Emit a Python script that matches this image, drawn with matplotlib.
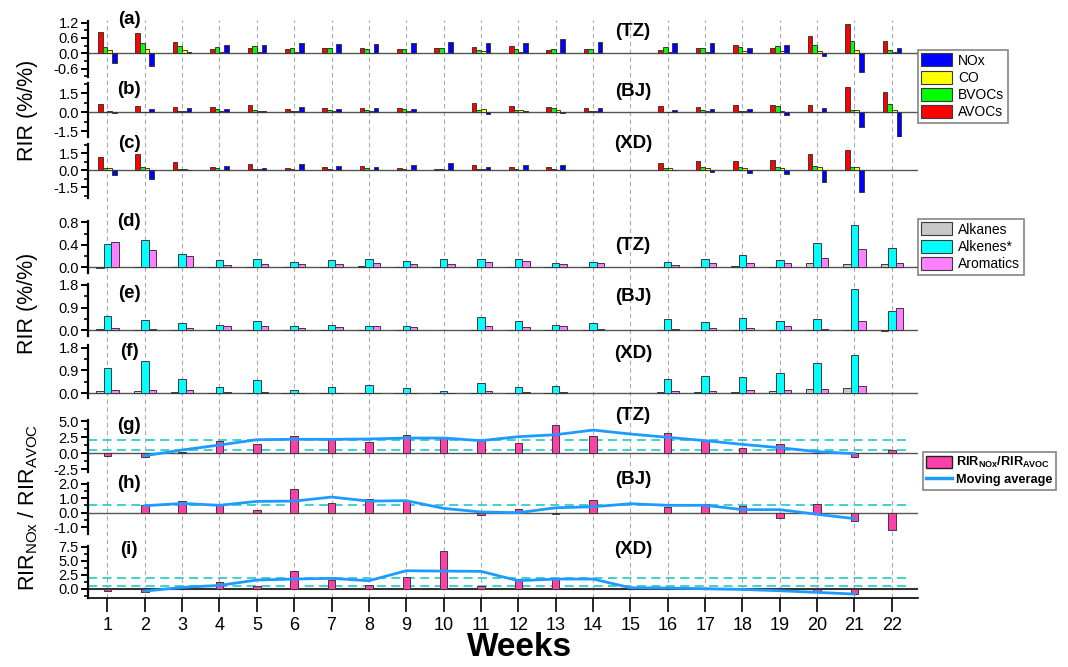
import numpy as np
import matplotlib
matplotlib.use("Agg")
import matplotlib.pyplot as plt
from matplotlib.patches import Patch
from matplotlib.lines import Line2D
from matplotlib.ticker import MultipleLocator, FormatStrFormatter

plt.rcParams['font.family'] = ['Liberation Sans', 'DejaVu Sans']
plt.rcParams['mathtext.fontset'] = 'custom'
plt.rcParams['mathtext.rm'] = 'Liberation Sans'
plt.rcParams['mathtext.bf'] = 'Liberation Sans:bold'
plt.rcParams['mathtext.it'] = 'Liberation Sans:italic'

nan = np.nan
weeks = list(range(1, 23))

# ---- (a)-(c) RIR of precursor groups ----
AVOCs_TZ = [0.85,0.81,0.43,0.18,0.21,0.17,0.20,0.22,0.16,0.20,0.23,0.27,0.12,0.17,nan,0.12,0.22,0.31,0.21,0.68,1.15,0.47]
BVOCs_TZ = [0.25,0.40,0.29,0.25,0.27,0.20,0.20,0.18,0.18,0.21,0.13,0.17,0.16,0.17,nan,0.25,0.22,0.26,0.29,0.31,0.47,0.12]
CO_TZ    = [0.12,0.17,0.12,0.05,0.05,0.04,0.03,0.02,0.03,0.02,0.08,0.04,0.02,0.01,nan,0.04,0.04,0.09,0.09,0.10,0.12,0.07]
NOx_TZ   = [-0.37,-0.50,0.05,0.34,0.31,0.42,0.38,0.38,0.42,0.46,0.42,0.40,0.55,0.46,nan,0.42,0.42,0.22,0.31,-0.10,-0.72,0.22]

AVOCs_BJ = [0.66,0.50,0.42,0.39,0.55,0.26,0.37,0.37,0.32,nan,0.74,0.50,0.42,0.37,nan,0.53,0.45,0.58,0.58,0.55,2.03,1.61]
BVOCs_BJ = [0.05,0.05,0.08,0.24,0.21,0.08,0.21,0.16,0.26,nan,0.21,0.21,0.34,0.08,nan,0.03,0.16,0.08,0.53,0.03,0.18,0.63]
CO_BJ    = [0.08,0.05,0.10,0.08,0.13,0.08,0.08,0.08,0.08,nan,0.29,0.18,0.16,0.08,nan,0.03,0.08,0.08,0.08,0.03,0.18,0.18]
NOx_BJ   = [-0.02,0.29,0.37,0.24,0.08,0.42,0.24,0.32,0.26,nan,-0.16,0.13,-0.05,0.32,nan,0.21,0.26,0.26,-0.24,0.32,-1.16,-1.92]

AVOCs_XD = [1.15,1.44,0.72,0.26,0.52,0.17,0.26,0.40,0.20,0.09,0.49,0.26,0.29,nan,nan,0.66,0.78,0.78,0.95,1.47,1.82,nan]
BVOCs_XD = [0.17,0.26,0.14,0.17,0.09,0.09,0.09,0.17,0.09,0.09,0.12,0.12,0.12,nan,nan,0.17,0.26,0.32,0.26,0.35,0.26,nan]
CO_XD    = [0.17,0.17,0.09,0.06,0.09,0.06,0.06,0.06,0.06,0.03,0.09,0.06,0.06,nan,nan,0.17,0.17,0.17,0.17,0.26,0.26,nan]
NOx_XD   = [-0.43,-0.75,0.01,0.35,0.23,0.52,0.40,0.26,0.43,0.61,0.26,0.43,0.46,nan,nan,0.0,-0.17,-0.23,-0.35,-1.07,-1.88,nan]

# ---- (d)-(f) RIR of VOC groups ----
Alkanes_TZ   = [-0.01,0.01,0.005,0.01,0.01,0.01,0.01,0.02,0.01,0.005,0.01,0.01,0.005,0.005,nan,0.005,0.01,0.02,0.01,0.07,0.05,0.06]
Alkenes_TZ   = [0.41,0.48,0.23,0.13,0.15,0.10,0.13,0.14,0.11,0.14,0.14,0.14,0.07,0.10,nan,0.09,0.14,0.21,0.12,0.44,0.76,0.35]
Aromatics_TZ = [0.45,0.30,0.19,0.04,0.05,0.05,0.05,0.07,0.05,0.05,0.09,0.11,0.05,0.08,nan,0.04,0.07,0.08,0.07,0.16,0.33,0.07]

Alkanes_BJ   = [0.03,0.02,0.01,-0.01,0.01,0.01,0.01,0.01,0.01,nan,0.01,0.01,0.01,0.01,nan,0.01,0.01,0.01,0.01,0.02,0.01,-0.04]
Alkenes_BJ   = [0.56,0.40,0.30,0.21,0.36,0.16,0.20,0.15,0.17,nan,0.54,0.36,0.22,0.28,nan,0.44,0.34,0.49,0.38,0.44,1.65,0.75]
Aromatics_BJ = [0.07,0.05,0.09,0.16,0.16,0.08,0.12,0.15,0.11,nan,0.15,0.11,0.15,0.05,nan,0.05,0.08,0.08,0.16,0.03,0.37,0.90]

Alkanes_XD   = [0.08,0.08,0.04,0.02,0.02,0.02,0.02,0.02,0.02,0.01,0.02,0.02,0.02,nan,nan,0.04,0.04,0.03,0.09,0.17,0.20,nan]
Alkenes_XD   = [1.01,1.28,0.58,0.26,0.51,0.13,0.23,0.34,0.21,0.08,0.42,0.23,0.27,nan,nan,0.56,0.66,0.63,0.79,1.18,1.49,nan]
Aromatics_XD = [0.11,0.12,0.12,0.03,0.03,0.02,0.02,0.02,0.02,0.01,0.08,0.03,0.03,nan,nan,0.09,0.09,0.12,0.12,0.17,0.28,nan]

# ---- (g)-(i) RIR_NOx / RIR_AVOC and moving average ----
Ratio_TZ = [-0.42,-0.57,0.10,1.88,1.46,2.66,2.14,1.67,2.76,2.40,1.98,1.51,4.43,2.60,nan,3.07,1.93,0.73,1.46,-0.05,-0.57,0.47]
MA_TZ    = [nan,-0.42,0.47,1.25,2.08,2.14,2.14,2.19,2.34,2.34,1.93,2.55,2.86,3.59,2.97,2.45,1.93,1.35,0.83,0.21,-0.10,nan]
Ratio_BJ = [nan,0.55,0.78,0.53,0.16,1.63,0.64,0.92,0.83,nan,-0.18,0.23,-0.11,0.85,nan,0.41,0.60,0.46,-0.39,0.60,-0.57,-1.22]
MA_BJ    = [nan,0.48,0.64,0.51,0.78,0.80,1.08,0.80,0.83,0.30,0.05,0.00,0.34,0.41,0.62,0.51,0.51,0.21,0.21,-0.11,-0.41,nan]
Ratio_XD = [-0.42,-0.60,nan,1.13,0.42,3.15,1.55,0.65,2.08,6.79,0.48,1.73,1.90,nan,nan,nan,nan,nan,-0.30,-0.60,-1.00,nan]
MA_XD    = [nan,-0.42,0.24,0.60,1.55,1.73,1.85,1.43,3.21,3.15,3.10,1.43,1.73,1.73,0.18,0.12,0.00,-0.12,-0.36,-0.65,-0.95,nan]
ref_levels_TZ = [0.5, 2.0]
ref_levels_BJ = [0.5]
ref_levels_XD = [0.5, 2.0]

# ---------------- figure -----------------
W_PX, H_PX = 1068, 667
fig = plt.figure(figsize=(W_PX/100, H_PX/100), dpi=100)
LEFT_PX, RIGHT_PX = 88, 918
XLIM = (0.48, 22.7)

def fx(px):
    return px / W_PX

def fy(py):
    return 1 - py / H_PX

def make_ax(top, bottom, ylim, major, minor):
    ax = fig.add_axes([fx(LEFT_PX), fy(bottom), fx(RIGHT_PX - LEFT_PX), (bottom - top) / H_PX])
    ax.set_facecolor('none')
    ax.set_xlim(*XLIM)
    ax.set_ylim(*ylim)
    for s in ['top', 'right', 'bottom']:
        ax.spines[s].set_visible(False)
    ax.spines['left'].set_linewidth(1.6)
    ax.yaxis.set_major_locator(MultipleLocator(major))
    ax.yaxis.set_minor_locator(MultipleLocator(minor))
    ax.yaxis.set_major_formatter(FormatStrFormatter('%.1f'))
    ax.tick_params(axis='y', which='major', direction='out', length=5, width=1.4, labelsize=10.5, pad=1.5)
    ax.tick_params(axis='y', which='minor', direction='out', length=3, width=1.2)
    ax.tick_params(axis='x', which='both', bottom=False, labelbottom=False)
    ax.axhline(0, color='#555555', lw=1.0, zorder=1)
    return ax

x = np.array(weeks, dtype=float)
edge = '#3a3a3a'

# background axes with vertical dashed week lines
bg = fig.add_axes([fx(LEFT_PX), fy(598), fx(RIGHT_PX - LEFT_PX), (598 - 20) / H_PX])
bg.set_xlim(*XLIM)
bg.set_ylim(0, 1)
bg.axis('off')
for w in weeks:
    bg.axvline(w, color='#aaaaaa', lw=0.8, ls=(0, (4, 3)), zorder=0)

# panels a-c
prec_colors = ['#ff0000', '#00ff00', '#ffff00', '#0000ff']
prec_off = [-0.1875, -0.0625, 0.0625, 0.1875]
panels_abc = [
    (20.7, 76.7, (-0.918, 1.278), 0.6, 0.3, [AVOCs_TZ, BVOCs_TZ, CO_TZ, NOx_TZ]),
    (83.3, 137.3, (-1.97, 2.29), 1.5, 0.75, [AVOCs_BJ, BVOCs_BJ, CO_BJ, NOx_BJ]),
    (144.0, 198.3, (-2.47, 2.32), 1.5, 0.75, [AVOCs_XD, BVOCs_XD, CO_XD, NOx_XD]),
]
for top, bot, ylim, mj, mn, series in panels_abc:
    ax = make_ax(top, bot, ylim, mj, mn)
    for vals, c, o in zip(series, prec_colors, prec_off):
        ax.bar(x + o, vals, width=0.125, color=c, edgecolor=edge, linewidth=0.7, zorder=2)

# panels d-f
voc_colors = ['#c8c8c8', '#00ffff', '#ff80ff']
voc_off = [-0.2, 0.0, 0.2]
panels_def = [
    (220.7, 272.7, (-0.10, 0.83), 0.4, 0.2, [Alkanes_TZ, Alkenes_TZ, Aromatics_TZ]),
    (284.0, 336.0, (-0.24, 1.84), 0.9, 0.45, [Alkanes_BJ, Alkenes_BJ, Aromatics_BJ]),
    (345.0, 398.3, (-0.20, 1.90), 0.9, 0.45, [Alkanes_XD, Alkenes_XD, Aromatics_XD]),
]
for top, bot, ylim, mj, mn, series in panels_def:
    ax = make_ax(top, bot, ylim, mj, mn)
    for vals, c, o in zip(series, voc_colors, voc_off):
        ax.bar(x + o, vals, width=0.2, color=c, edgecolor=edge, linewidth=0.7, zorder=2)

# panels g-i
ratio_color = '#ff40a8'
ma_color = '#1e9bff'
panels_ghi = [
    (420.0, 471.7, (-2.92, 5.16), 2.5, 1.25, Ratio_TZ, MA_TZ, ref_levels_TZ),
    (482.7, 534.3, (-1.49, 2.07), 1.0, 0.5, Ratio_BJ, MA_BJ, ref_levels_BJ),
    (545.7, 597.7, (-1.6, 7.68), 2.5, 1.25, Ratio_XD, MA_XD, ref_levels_XD),
]
axes_ghi = []
for top, bot, ylim, mj, mn, ratio, ma, refs in panels_ghi:
    ax = make_ax(top, bot, ylim, mj, mn)
    for r in refs:
        ax.axhline(r, xmin=0, xmax=(22.5 - XLIM[0]) / (XLIM[1] - XLIM[0]),
                   color='#33cccc', lw=1.3, ls=(0, (5, 3)), zorder=1)
    ax.bar(x, ratio, width=0.2, color=ratio_color, edgecolor=edge, linewidth=0.7, zorder=2)
    ax.plot(x, ma, color=ma_color, lw=2.0, zorder=3)
    axes_ghi.append(ax)

axi = axes_ghi[-1]
axi.lines[0].set_color('#333333')  # zero line darker in last panel
axi.lines[0].set_linewidth(1.5)
axi.spines['bottom'].set_visible(True)
axi.spines['bottom'].set_linewidth(1.2)
axi.set_xticks(weeks)
axi.set_xticklabels([str(w) for w in weeks])
axi.tick_params(axis='x', which='major', bottom=True, labelbottom=True, direction='out',
                length=10, width=1.2, labelsize=13, pad=4)

# panel labels
lab_kw = dict(fontsize=13.5, fontweight='bold', ha='center', va='center')
labels = [('(a)', 20), ('(b)', 90), ('(c)', 143), ('(d)', 222), ('(e)', 294),
          ('(f)', 352), ('(g)', 425), ('(h)', 484), ('(i)', 550)]
for t, yy in labels:
    fig.text(fx(129), fy(yy), t, **lab_kw)
sites = [('(TZ)', 32), ('(BJ)', 91), ('(XD)', 143), ('(TZ)', 245), ('(BJ)', 296),
         ('(XD)', 353), ('(TZ)', 415), ('(BJ)', 480), ('(XD)', 550)]
for t, yy in sites:
    fig.text(fx(633), fy(yy), t, **lab_kw)

# y labels
fig.text(fx(28), fy(110), 'RIR (%/%)', rotation=90, fontsize=15.5, ha='center', va='center')
fig.text(fx(28), fy(303), 'RIR (%/%)', rotation=90, fontsize=15.5, ha='center', va='center')
fig.text(fx(28), fy(507), r'RIR$_{\mathrm{NOx}}$ / RIR$_{\mathrm{AVOC}}$', rotation=90,
         fontsize=15.5, ha='center', va='center')
fig.text(fx(520), fy(648), 'Weeks', fontsize=24, fontweight='bold', ha='center', va='center')

# legends
leg_kw = dict(loc='upper left', frameon=True, fancybox=False, edgecolor='#666666',
              handlelength=2.2, handleheight=1.05, labelspacing=0.22, borderpad=0.25,
              handletextpad=0.45, borderaxespad=0)
h1 = [Patch(facecolor=c, edgecolor=edge, lw=0.8) for c in ['#0000ff', '#ffff00', '#00ff00', '#ff0000']]
l1 = fig.legend(h1, ['NOx', 'CO', 'BVOCs', 'AVOCs'], bbox_to_anchor=(fx(918), fy(50)),
                fontsize=10, **leg_kw)
l1.get_frame().set_linewidth(1.2)
h2 = [Patch(facecolor=c, edgecolor=edge, lw=0.8) for c in voc_colors]
l2 = fig.legend(h2, ['Alkanes', 'Alkenes*', 'Aromatics'], bbox_to_anchor=(fx(918), fy(219)),
                fontsize=10, **leg_kw)
l2.get_frame().set_linewidth(1.2)
h3 = [Patch(facecolor=ratio_color, edgecolor='#222222', lw=1.0),
      Line2D([0], [0], color=ma_color, lw=2.5)]
leg3_kw = dict(leg_kw)
leg3_kw['handlelength'] = 2.0
leg3_kw['handletextpad'] = 0.35
l3 = fig.legend(h3, [r'$\mathbf{RIR_{NOx}/RIR_{AVOC}}$', 'Moving average'],
                bbox_to_anchor=(fx(923), fy(452)),
                prop={'weight': 'bold', 'size': 9.2}, **leg3_kw)
l3.get_frame().set_linewidth(1.2)

fig.savefig('out.png', dpi=100)
